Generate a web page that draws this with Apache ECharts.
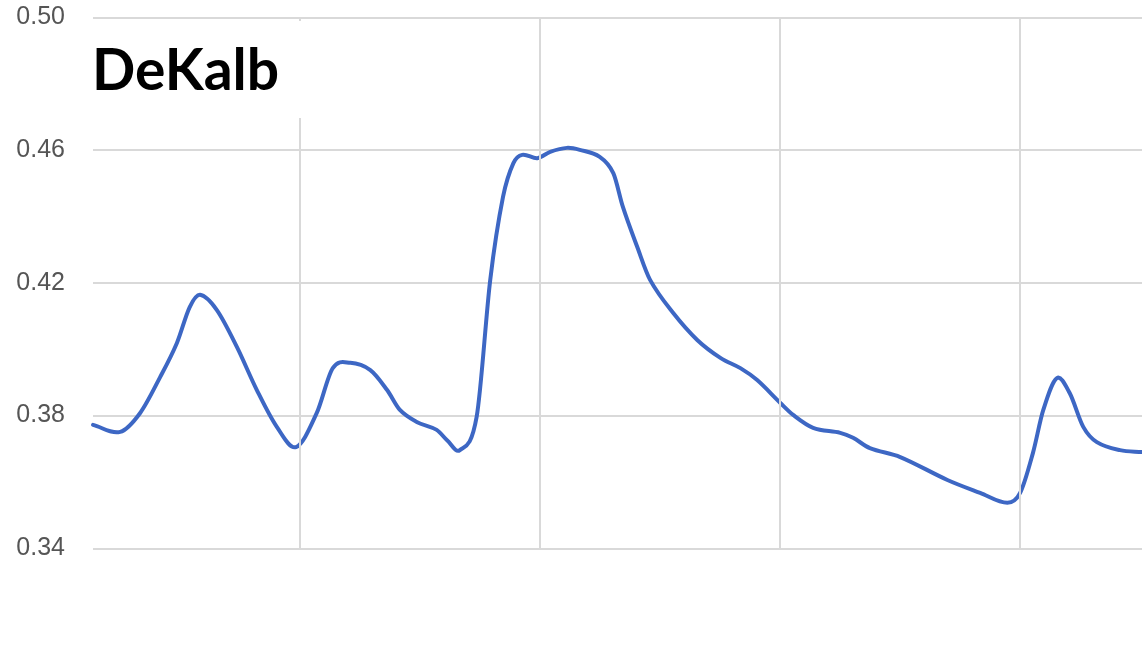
<!DOCTYPE html>
<html>
<head>
<meta charset="utf-8">
<style>
  html, body { margin: 0; padding: 0; background: #ffffff; }
  #chart { width: 1142px; height: 667px; }
</style>
<script src="https://cdn.jsdelivr.net/npm/echarts@6/dist/echarts.min.js"></script>
</head>
<body>
<div id="chart"></div>
<script>
// Day offsets relative to the first month boundary, and the rate on each day
const days = [-25.9, -22.5, -20.0, -17.5, -15.4, -13.8, -12.5, -10.4, -7.9, -5.4,
  -2.9, -0.5, 2.1, 4.1, 6.3, 8.8, 10.9, 12.5, 14.6, 17.1,
  18.4, 20.0, 22.1, 23.8, 25.4, 26.7, 27.8, 29.7, 31.3, 33.4,
  35.0, 37.5, 39.2, 40.4, 42.2, 43.8, 46.7, 49.7, 52.6, 55.1,
  57.2, 60.1, 61.7, 64.2, 67.6, 69.2, 71.3, 75.1, 81.0, 85.1,
  88.5, 90.1, 91.7, 93.0, 94.7, 96.3, 98.0, 99.7, 102.6, 105.35];
const rates = [0.3772, 0.3751, 0.3808, 0.3916, 0.4019, 0.4127, 0.4164, 0.4118, 0.4007, 0.3877,
  0.3766, 0.3705, 0.3808, 0.3943, 0.3959, 0.3937, 0.3877, 0.3817, 0.3781, 0.3757,
  0.3726, 0.3696, 0.3796, 0.4209, 0.4459, 0.4561, 0.4586, 0.4576, 0.4595, 0.4607,
  0.4601, 0.4580, 0.4531, 0.4429, 0.4308, 0.4209, 0.4109, 0.4028, 0.3974, 0.3943,
  0.3907, 0.3838, 0.3802, 0.3763, 0.3748, 0.3733, 0.3702, 0.3675, 0.3606, 0.3567,
  0.3537, 0.3567, 0.3687, 0.3817, 0.3913, 0.3868, 0.3766, 0.3720, 0.3696, 0.3690];
// Month boundaries (vertical grid lines)
const monthBoundaries = [0, 30, 60, 90];
// Value axis ticks
const yTicks = [0.34, 0.38, 0.42, 0.46, 0.50];
const title = 'DeKalb';

const gridColor = '#d9d9d9';
const lineColor = '#3d67c4';

// Catmull-Rom style cubic path (tangents from neighbouring points) through pixel points
function splinePath(pts) {
  const n = pts.length;
  const m = new Array(n);
  for (let i = 0; i < n; i++) {
    const a = pts[Math.max(i - 1, 0)], b = pts[Math.min(i + 1, n - 1)];
    m[i] = (b[1] - a[1]) / (b[0] - a[0]);
  }
  let d = 'M' + pts[0][0] + ',' + pts[0][1];
  for (let i = 0; i < n - 1; i++) {
    const dx = (pts[i + 1][0] - pts[i][0]) / 3;
    d += 'C' + (pts[i][0] + dx) + ',' + (pts[i][1] + m[i] * dx) + ',' +
      (pts[i + 1][0] - dx) + ',' + (pts[i + 1][1] - m[i + 1] * dx) + ',' +
      pts[i + 1][0] + ',' + pts[i + 1][1];
  }
  return d;
}

const chart = echarts.init(document.getElementById('chart'), null, { renderer: 'canvas' });

chart.setOption({
  animation: false,
  backgroundColor: '#ffffff',
  grid: { left: 93, right: 0, top: 17.5, bottom: 118.7, containLabel: false },
  xAxis: {
    type: 'value',
    min: -25.9,
    max: 105.35,
    axisLine: { show: false },
    axisTick: { show: false },
    axisLabel: { show: false },
    splitLine: { show: false }
  },
  yAxis: {
    type: 'value',
    min: yTicks[0],
    max: yTicks[yTicks.length - 1],
    interval: 0.04,
    axisLine: { show: false },
    axisTick: { show: false },
    axisLabel: {
      margin: 28,
      color: '#555555',
      fontFamily: 'Liberation Sans, Arial, sans-serif',
      fontSize: 25,
      formatter: v => v.toFixed(2)
    },
    splitLine: { lineStyle: { color: gridColor, width: 2 } }
  },
  series: [
    {
      // vertical month grid lines, kept under the data line
      type: 'line',
      z: 1,
      data: [],
      markLine: {
        silent: true,
        symbol: 'none',
        animation: false,
        label: { show: false },
        lineStyle: { color: gridColor, width: 2, type: 'solid' },
        data: monthBoundaries.map(d => ({ xAxis: d }))
      }
    },
    {
      // the rate curve, one smooth path through all points
      type: 'custom',
      z: 3,
      coordinateSystem: 'cartesian2d',
      encode: { x: 0, y: 1 },
      data: days.map((d, i) => [d, rates[i]]),
      renderItem: function (params, api) {
        if (params.dataIndex !== 0) return null;
        const pts = days.map((d, i) => api.coord([d, rates[i]]));
        return {
          type: 'path',
          shape: { pathData: splinePath(pts) },
          style: {
            fill: 'none',
            stroke: lineColor,
            lineWidth: 4,
            lineCap: 'round',
            lineJoin: 'round'
          }
        };
      }
    }
  ],
  graphic: [
    {
      type: 'rect',
      z: 10,
      shape: { x: 80, y: 21, width: 223, height: 97 },
      style: { fill: '#ffffff' }
    },
    {
      type: 'text',
      z: 11,
      style: {
        text: title,
        x: 92,
        y: 72,
        fill: '#000000',
        font: 'bold 57px Lato, "Open Sans", sans-serif',
        verticalAlign: 'middle'
      }
    }
  ]
});
</script>
</body>
</html>
